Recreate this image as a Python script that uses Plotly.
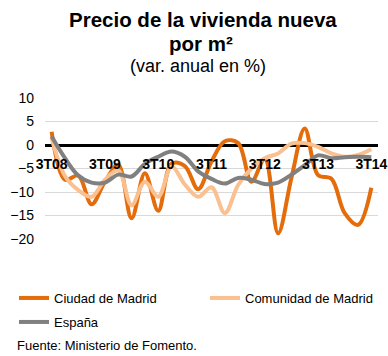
import plotly.graph_objects as go

# Quarterly year-on-year change (%) in new-home price per m2
quarters = ["3T08", "4T08", "1T09", "2T09", "3T09", "4T09", "1T10", "2T10", "3T10",
            "4T10", "1T11", "2T11", "3T11", "4T11", "1T12", "2T12", "3T12", "4T12",
            "1T13", "2T13", "3T13", "4T13", "1T14", "2T14", "3T14"]
ciudad = [2.8, -7.4, -6.5, -12.6, -7.8, -4.2, -15.6, -6.0, -14.0, -4.0, -4.5, -9.4,
          -3.5, 0.8, 0.4, -7.8, -3.0, -18.8, -7.0, 3.5, -6.4, -7.2, -14.5, -17.0, -9.1]
comunidad = [1.5, -6.6, -9.6, -11.0, -7.4, -5.4, -12.8, -7.8, -11.0, -4.6, -8.4, -11.0,
             -9.0, -14.5, -8.5, -5.0, -2.8, -1.8, 0.3, 0.4, -0.4, -1.8, -2.5, -2.1, -0.9]
espana = [1.8, -2.8, -6.5, -8.0, -8.0, -6.3, -6.7, -4.0, -2.5, -1.4, -2.5, -5.6,
          -7.2, -8.2, -7.0, -7.4, -8.3, -8.0, -6.3, -4.3, -2.2, -2.8, -2.6, -2.5, -2.6]
series_names = ["Ciudad de Madrid", "Comunidad de Madrid", "España"]
series_colors = ["#E46C0A", "#FAC090", "#808080"]
tick_labels = quarters[::4]
y_min, y_max = -20, 10

W, H = 388, 356
L, R, T, B = 45, 10, 98, 117
plot_h = H - T - B
plot_w = W - L - R


def py(px):
    """pixel row -> paper y"""
    return (H - B - px) / plot_h


def px_(p):
    """pixel column -> paper x"""
    return (p - L) / plot_w


font = "Liberation Sans, Arial, sans-serif"

# one legend box per series, placed as a two-row key
legend_ids = ["legend", "legend2", "legend3"]
legend_pos = [(14, 283), (205, 283), (14, 307)]

fig = go.Figure()
for name, vals, col, lg in zip(series_names, [ciudad, comunidad, espana],
                               series_colors, legend_ids):
    fig.add_trace(go.Scatter(
        x=list(range(len(quarters))), y=vals, name=name, mode="lines",
        line=dict(color=col, width=4, shape="spline", smoothing=1.0),
        legend=lg,
    ))

legends = {}
for lg, (lx, ly) in zip(legend_ids, legend_pos):
    legends[lg] = dict(
        orientation="h", x=px_(lx), xanchor="left", y=py(ly), yanchor="top",
        font=dict(size=13, family=font, color="black"),
        bgcolor="rgba(0,0,0,0)", borderwidth=0,
    )

fig.update_layout(
    width=W, height=H,
    margin=dict(l=L, r=R, t=T, b=B, autoexpand=False),
    paper_bgcolor="white", plot_bgcolor="white",
    font=dict(family=font, color="black"),
    showlegend=True,
    xaxis=dict(
        range=[-0.5, len(quarters) - 0.5],
        tickvals=[i for i in range(len(quarters)) if i % 4 == 0],
        ticktext=tick_labels,
        showgrid=False, zeroline=False, showline=False,
        ticks="outside", ticklen=6, tickcolor="rgba(0,0,0,0)",
        tickfont=dict(size=14, family=font, color="black", weight="bold"),
        anchor="free", position=(0 - y_min) / (y_max - y_min),
    ),
    yaxis=dict(
        range=[y_min, y_max], dtick=5,
        showgrid=True, gridcolor="#D9D9D9", gridwidth=1,
        zeroline=True, zerolinecolor="black", zerolinewidth=3,
        showline=False, ticks="", ticklabelstandoff=10,
        tickfont=dict(size=14, family=font, color="black"),
    ),
    annotations=[
        dict(text="<b>Precio de la vivienda nueva</b>", x=px_(203), y=py(19),
             xref="paper", yref="paper", showarrow=False, xanchor="center",
             yanchor="middle", font=dict(size=20.5, family=font)),
        dict(text="<b>por m²</b>", x=px_(201), y=py(43),
             xref="paper", yref="paper", showarrow=False, xanchor="center",
             yanchor="middle", font=dict(size=20.5, family=font)),
        dict(text="(var. anual en %)", x=px_(198), y=py(66),
             xref="paper", yref="paper", showarrow=False, xanchor="center",
             yanchor="middle", font=dict(size=18, family=font)),
        dict(text="Fuente: Ministerio de Fomento.", x=px_(15), y=py(345),
             xref="paper", yref="paper", showarrow=False, xanchor="left",
             yanchor="middle", font=dict(size=13, family=font)),
    ],
    **legends,
)

fig.write_html("out.html")
